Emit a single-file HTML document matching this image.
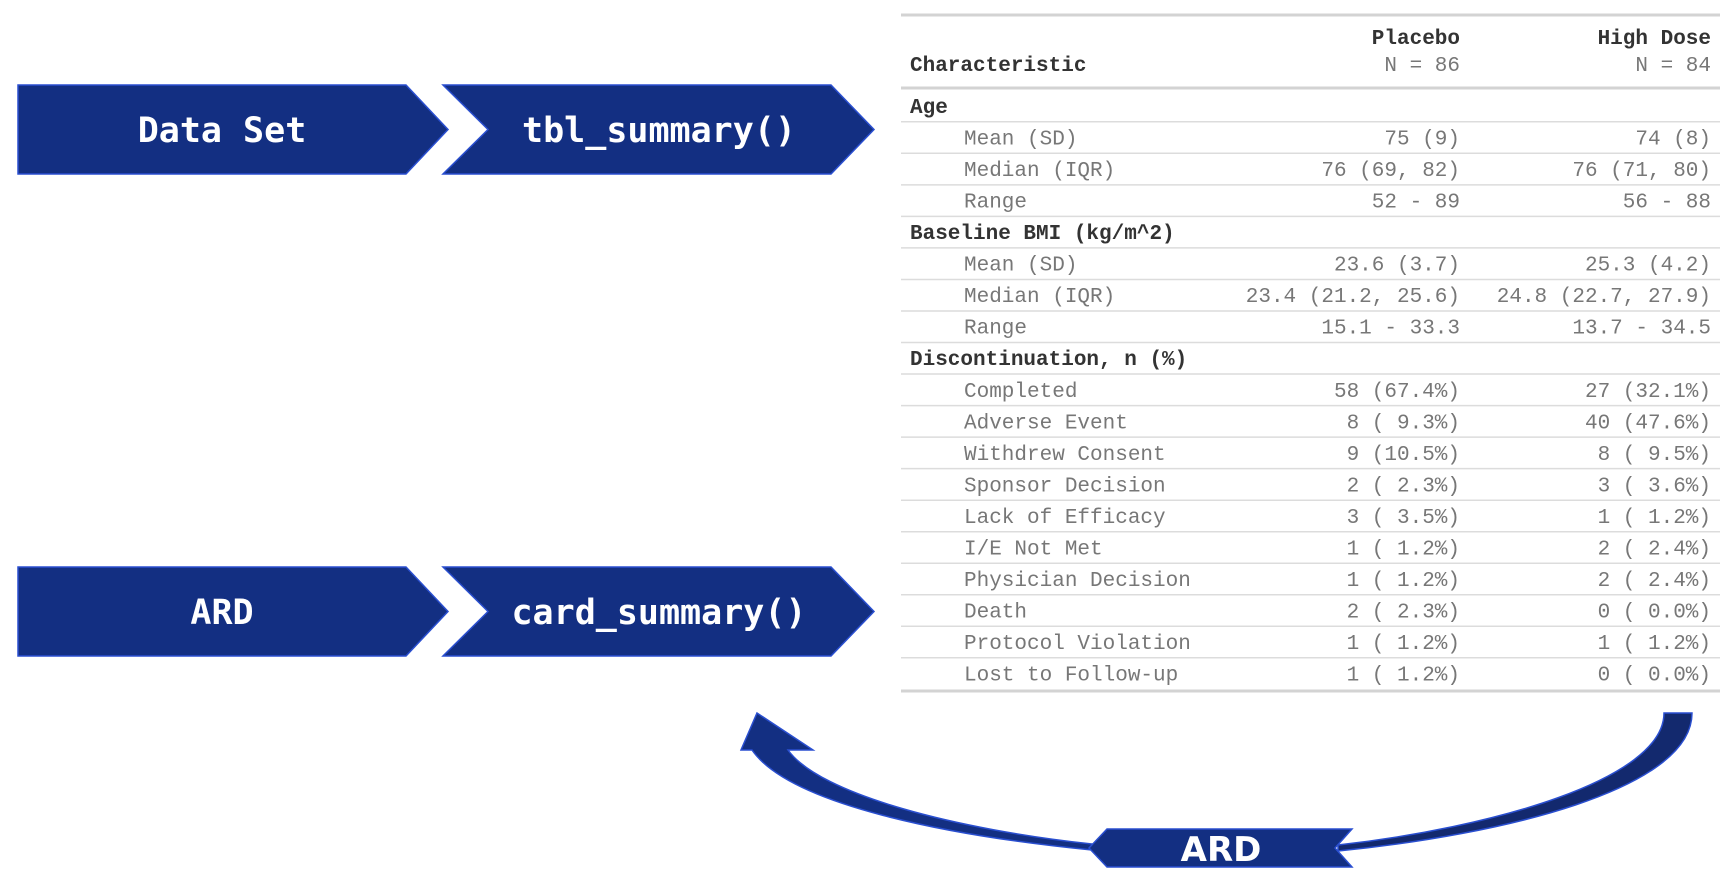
<!DOCTYPE html>
<html><head><meta charset="utf-8"><style>
html,body{margin:0;padding:0;background:#fff;}
svg{display:block;}
</style></head><body>
<svg width="1734" height="878" viewBox="0 0 1734 878" xmlns="http://www.w3.org/2000/svg">
<g fill="#132f82" stroke="#2a4fd0" stroke-width="1.5">
  <polygon points="18,85 406,85 448,129.5 406,174 18,174"/>
  <polygon points="443,85 831,85 874,129.5 831,174 443,174 488,129.5"/>
  <polygon points="18,567 406,567 448,611.5 406,656 18,656"/>
  <polygon points="443,567 831,567 874,611.5 831,656 443,656 488,611.5"/>
</g>
<g fill="#fff" font-family="'DejaVu Sans Mono','Liberation Mono',monospace" font-weight="bold" font-size="35" text-anchor="middle">
  <text x="222" y="142">Data Set</text>
  <text x="659" y="142">tbl_summary()</text>
  <text x="222" y="624">ARD</text>
  <text x="659" y="624">card_summary()</text>
</g>
<path d="M1692,713 C1692,790 1500,835 1338,851 L1338,845 C1490,828 1664,780 1664,713 Z" fill="#13296e" stroke="#2a4fd0" stroke-width="1.5"/>
<path d="M1092,850 C950,836 790,805 752,750 L741,750 L757,713 L813,750 L788,750 C820,795 960,830 1092,844 Z" fill="#132f82" stroke="#2a4fd0" stroke-width="1.5"/>
<polygon points="1089,848 1107,829 1352,829 1335,848 1352,867 1107,867" fill="#132f82" stroke="#2a4fd0" stroke-width="1.5"/>
<text x="1221" y="861" fill="#fff" font-family="'DejaVu Sans','Liberation Sans',sans-serif" font-weight="bold" font-size="34" text-anchor="middle">ARD</text>
<g stroke="#d3d3d3">
  <line x1="901" y1="15" x2="1720" y2="15" stroke-width="3"/>
  <line x1="901" y1="88" x2="1720" y2="88" stroke-width="3"/>
  <line x1="901" y1="691" x2="1720" y2="691" stroke-width="3"/>
</g>
<g stroke="#dcdcdc" stroke-width="1.5">
  <line x1="901" x2="1720" y1="121.8" y2="121.8"/>
  <line x1="901" x2="1720" y1="153.3" y2="153.3"/>
  <line x1="901" x2="1720" y1="184.9" y2="184.9"/>
  <line x1="901" x2="1720" y1="216.4" y2="216.4"/>
  <line x1="901" x2="1720" y1="247.9" y2="247.9"/>
  <line x1="901" x2="1720" y1="279.5" y2="279.5"/>
  <line x1="901" x2="1720" y1="311" y2="311"/>
  <line x1="901" x2="1720" y1="342.5" y2="342.5"/>
  <line x1="901" x2="1720" y1="374" y2="374"/>
  <line x1="901" x2="1720" y1="405.6" y2="405.6"/>
  <line x1="901" x2="1720" y1="437.1" y2="437.1"/>
  <line x1="901" x2="1720" y1="468.6" y2="468.6"/>
  <line x1="901" x2="1720" y1="500.2" y2="500.2"/>
  <line x1="901" x2="1720" y1="531.7" y2="531.7"/>
  <line x1="901" x2="1720" y1="563.2" y2="563.2"/>
  <line x1="901" x2="1720" y1="594.8" y2="594.8"/>
  <line x1="901" x2="1720" y1="626.3" y2="626.3"/>
  <line x1="901" x2="1720" y1="657.8" y2="657.8"/>
</g>
<g font-family="'Liberation Mono',monospace" font-size="21">
  <text x="910" y="71" font-weight="bold" fill="#333">Characteristic</text>
  <text x="1460" y="44" font-weight="bold" fill="#333" text-anchor="end">Placebo</text>
  <text x="1711" y="44" font-weight="bold" fill="#333" text-anchor="end">High Dose</text>
  <text x="1460" y="71" fill="#777" text-anchor="end">N = 86</text>
  <text x="1711" y="71" fill="#777" text-anchor="end">N = 84</text>
</g>
<g font-family="'Liberation Mono',monospace" font-size="21" font-weight="bold" fill="#333">
  <text x="910" y="113">Age</text>
  <text x="910" y="239.1">Baseline BMI (kg/m^2)</text>
  <text x="910" y="365.2">Discontinuation, n (%)</text>
</g>
<g font-family="'Liberation Mono',monospace" font-size="21" fill="#777">
  <text x="964" y="144.5">Mean (SD)</text>
  <text x="964" y="176.1">Median (IQR)</text>
  <text x="964" y="207.6">Range</text>
  <text x="964" y="270.7">Mean (SD)</text>
  <text x="964" y="302.2">Median (IQR)</text>
  <text x="964" y="333.7">Range</text>
  <text x="964" y="396.8">Completed</text>
  <text x="964" y="428.3">Adverse Event</text>
  <text x="964" y="459.8">Withdrew Consent</text>
  <text x="964" y="491.4">Sponsor Decision</text>
  <text x="964" y="522.9">Lack of Efficacy</text>
  <text x="964" y="554.4">I/E Not Met</text>
  <text x="964" y="586">Physician Decision</text>
  <text x="964" y="617.5">Death</text>
  <text x="964" y="649">Protocol Violation</text>
  <text x="964" y="680.6">Lost to Follow-up</text>
</g>
<g font-family="'Liberation Mono',monospace" font-size="21" fill="#777" text-anchor="end">
  <text x="1460" y="144.5">75 (9)</text><text x="1711" y="144.5">74 (8)</text>
  <text x="1460" y="176.1">76 (69, 82)</text><text x="1711" y="176.1">76 (71, 80)</text>
  <text x="1460" y="207.6">52 - 89</text><text x="1711" y="207.6">56 - 88</text>
  <text x="1460" y="270.7">23.6 (3.7)</text><text x="1711" y="270.7">25.3 (4.2)</text>
  <text x="1460" y="302.2">23.4 (21.2, 25.6)</text><text x="1711" y="302.2">24.8 (22.7, 27.9)</text>
  <text x="1460" y="333.7">15.1 - 33.3</text><text x="1711" y="333.7">13.7 - 34.5</text>
  <text x="1460" y="396.8">58 (67.4%)</text><text x="1711" y="396.8">27 (32.1%)</text>
  <text x="1460" y="428.3">8 ( 9.3%)</text><text x="1711" y="428.3">40 (47.6%)</text>
  <text x="1460" y="459.8">9 (10.5%)</text><text x="1711" y="459.8">8 ( 9.5%)</text>
  <text x="1460" y="491.4">2 ( 2.3%)</text><text x="1711" y="491.4">3 ( 3.6%)</text>
  <text x="1460" y="522.9">3 ( 3.5%)</text><text x="1711" y="522.9">1 ( 1.2%)</text>
  <text x="1460" y="554.4">1 ( 1.2%)</text><text x="1711" y="554.4">2 ( 2.4%)</text>
  <text x="1460" y="586">1 ( 1.2%)</text><text x="1711" y="586">2 ( 2.4%)</text>
  <text x="1460" y="617.5">2 ( 2.3%)</text><text x="1711" y="617.5">0 ( 0.0%)</text>
  <text x="1460" y="649">1 ( 1.2%)</text><text x="1711" y="649">1 ( 1.2%)</text>
  <text x="1460" y="680.6">1 ( 1.2%)</text><text x="1711" y="680.6">0 ( 0.0%)</text>
</g>
</svg>
</body></html>
